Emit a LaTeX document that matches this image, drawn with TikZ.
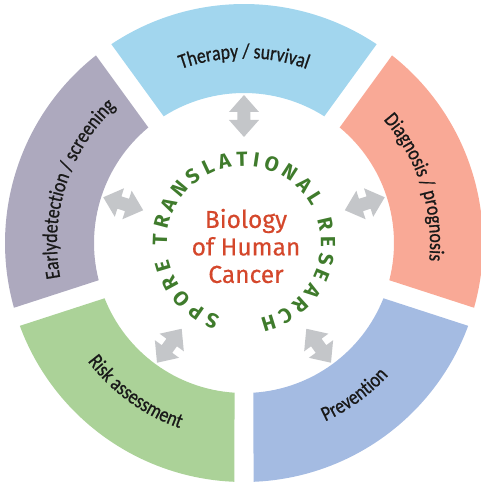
\documentclass[tikz,border=0pt]{standalone}
\usepackage{fontspec}
\setmainfont{Fira Sans}
\newfontfamily\labelfont[FakeStretch=0.84,FakeBold=0.8]{Carlito}
\newfontfamily\corefont[FakeBold=0.5]{Fira Sans}
\usetikzlibrary{decorations.text}

\definecolor{therapy}{HTML}{A2D6EE}
\definecolor{diagnosis}{HTML}{F9A996}
\definecolor{prevention}{HTML}{A4BBE2}
\definecolor{risk}{HTML}{ABD298}
\definecolor{early}{HTML}{ADA9BE}
\definecolor{arrowgray}{HTML}{C4C6C9}
\definecolor{spore}{HTML}{3F7B2C}
\definecolor{biology}{HTML}{D4472B}

\newcommand\seglabelfont{\labelfont\fontsize{21}{24}\selectfont}
\newcommand\ringfont{\bfseries\fontsize{20.5}{24}\selectfont}

\begin{document}
\begin{tikzpicture}[x=1pt,y=1pt,
  seglabel/.style={decorate,decoration={text along path,text align=center,
    text color=black!90,text={|\seglabelfont|#1}}}]
\useasboundingbox (-244,-242) rectangle (236,243);

% five ring pieces, gaps centred on -18, 54, 126, 198 and 270 degrees
\foreach \a/\c in {-18/diagnosis,54/therapy,126/early,198/risk,270/prevention}{
  \fill[\c] ({\a+2.28}:239) arc[start angle=\a+2.28, end angle=\a+69.72, radius=239]
    -- ({\a+68.37}:150) arc[start angle=\a+68.37, end angle=\a+3.63, radius=150] -- cycle;
}

% grey two-way arrows between the core and each piece
\foreach \a in {18,90,162,234,306}{
  \fill[arrowgray,rotate=\a] (106,0) -- (123,15) -- (123,6.5) -- (131,6.5) -- (131,15)
    -- (148,0) -- (131,-15) -- (131,-6.5) -- (123,-6.5) -- (123,-15) -- cycle;
}

% labels on the ring
\path[seglabel={Therapy / survival}] (125:185) arc[start angle=125, end angle=55, radius=185];
\path[seglabel={Diagnosis / prognosis}] (53:186) arc[start angle=53, end angle=-17, radius=186];
\path[seglabel={Earlydetection / screening}] (197:187) arc[start angle=197, end angle=127, radius=187];
\path[seglabel={Risk assessment}] (199:196) arc[start angle=199, end angle=269, radius=196];
\path[seglabel={Prevention}] (271:196) arc[start angle=271, end angle=341, radius=196];

% green circle of text round the core
\path[decorate,decoration={text along path,text align={fit to path},text color=spore,
  text={|\ringfont|SPORE TRANSLATIONAL RESEARCH}}]
  (252:77) arc[start angle=252, end angle=-78, radius=77];

\node[font=\corefont\fontsize{24.5}{27.5}\selectfont, text=biology, align=center] (core) at (2,-3)
  {Biology\\of Human\\Cancer};
\end{tikzpicture}
\end{document}
